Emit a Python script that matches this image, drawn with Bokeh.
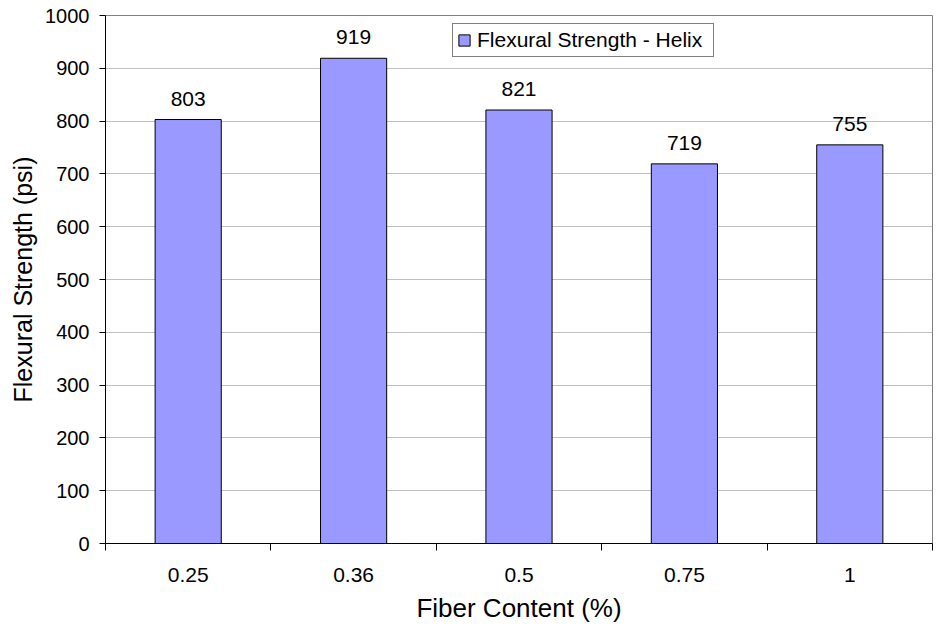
from bokeh.plotting import figure
from bokeh.models import ColumnDataSource, Range1d, FixedTicker, Legend, LegendItem
from bokeh.embed import file_html
from bokeh.resources import INLINE

# Fiber content categories and measured flexural strength (psi)
fiber_content = ["0.25", "0.36", "0.5", "0.75", "1"]
flexural_strength = [803, 919, 821, 719, 755]
y_ticks = list(range(0, 1001, 100))

FONT = "Liberation Sans"

centers = [i + 0.5 for i in range(len(fiber_content))]
source = ColumnDataSource(data=dict(
    x=centers,
    top=flexural_strength,
    label=[str(v) for v in flexural_strength],
))

p = figure(
    width=939, height=634,
    x_range=Range1d(0, len(fiber_content)),
    y_range=Range1d(0, 1000),
    output_backend="svg", toolbar_location=None,
    min_border_left=105, min_border_right=7,
    min_border_top=15, min_border_bottom=91,
)
p.background_fill_color = "white"
p.border_fill_color = "white"
p.outline_line_color = "#808080"
p.outline_line_width = 1

bars = p.vbar(x="x", top="top", width=0.4, source=source,
              fill_color="#9999FF", line_color="black", line_width=1)

# value labels above each bar
p.text(x="x", y="top", text="label", source=source,
       text_font={"value": FONT}, text_font_size="21px",
       text_align="center", text_baseline="alphabetic",
       y_offset=-21, text_color="black")

# x axis: labels at bar centres, tick marks at category boundaries
p.xaxis.ticker = FixedTicker(ticks=centers,
                             minor_ticks=list(range(len(fiber_content) + 1)))
p.xaxis.major_label_overrides = {c: lab for c, lab in zip(centers, fiber_content)}
p.xaxis.major_tick_out = 0
p.xaxis.major_tick_in = 0
p.xaxis.minor_tick_out = 7
p.xaxis.minor_tick_in = 0
p.xaxis.minor_tick_line_color = "black"
p.xaxis.major_label_standoff = 17
p.xaxis.axis_label = "Fiber Content (%)"
p.xaxis.axis_label_standoff = 8

p.yaxis.ticker = FixedTicker(ticks=y_ticks)
p.yaxis.major_tick_out = 6
p.yaxis.major_tick_in = 0
p.yaxis.minor_tick_out = 0
p.yaxis.minor_tick_in = 0
p.yaxis.major_label_standoff = 10
p.yaxis.axis_label = "Flexural Strength (psi)"
p.yaxis.axis_label_standoff = 5

for ax in (p.xaxis[0], p.yaxis[0]):
    ax.axis_line_color = "black"
    ax.major_tick_line_color = "black"
    ax.major_label_text_font = FONT
    ax.major_label_text_color = "black"
    ax.axis_label_text_font = FONT
    ax.axis_label_text_font_style = "normal"
    ax.axis_label_text_color = "black"

p.xaxis.major_label_text_font_size = "21px"
p.yaxis.major_label_text_font_size = "20px"
p.xaxis.axis_label_text_font_size = "26px"
p.yaxis.axis_label_text_font_size = "25px"

p.xgrid.grid_line_color = None
p.ygrid.grid_line_color = "#c0c0c0"
p.ygrid.ticker = FixedTicker(ticks=y_ticks)

legend = Legend(items=[LegendItem(label="Flexural Strength - Helix", renderers=[bars])],
                location=(347, 486))
legend.label_text_font = FONT
legend.label_text_font_size = "21px"
legend.label_text_color = "black"
legend.glyph_width = 14
legend.glyph_height = 14
legend.label_standoff = 6
legend.label_width = 232
legend.padding = 4
legend.margin = 0
legend.spacing = 0
legend.border_line_color = "black"
legend.border_line_width = 1
legend.background_fill_color = "white"
legend.background_fill_alpha = 1.0
p.add_layout(legend)

open("out.html", "w").write(file_html(p, INLINE))
